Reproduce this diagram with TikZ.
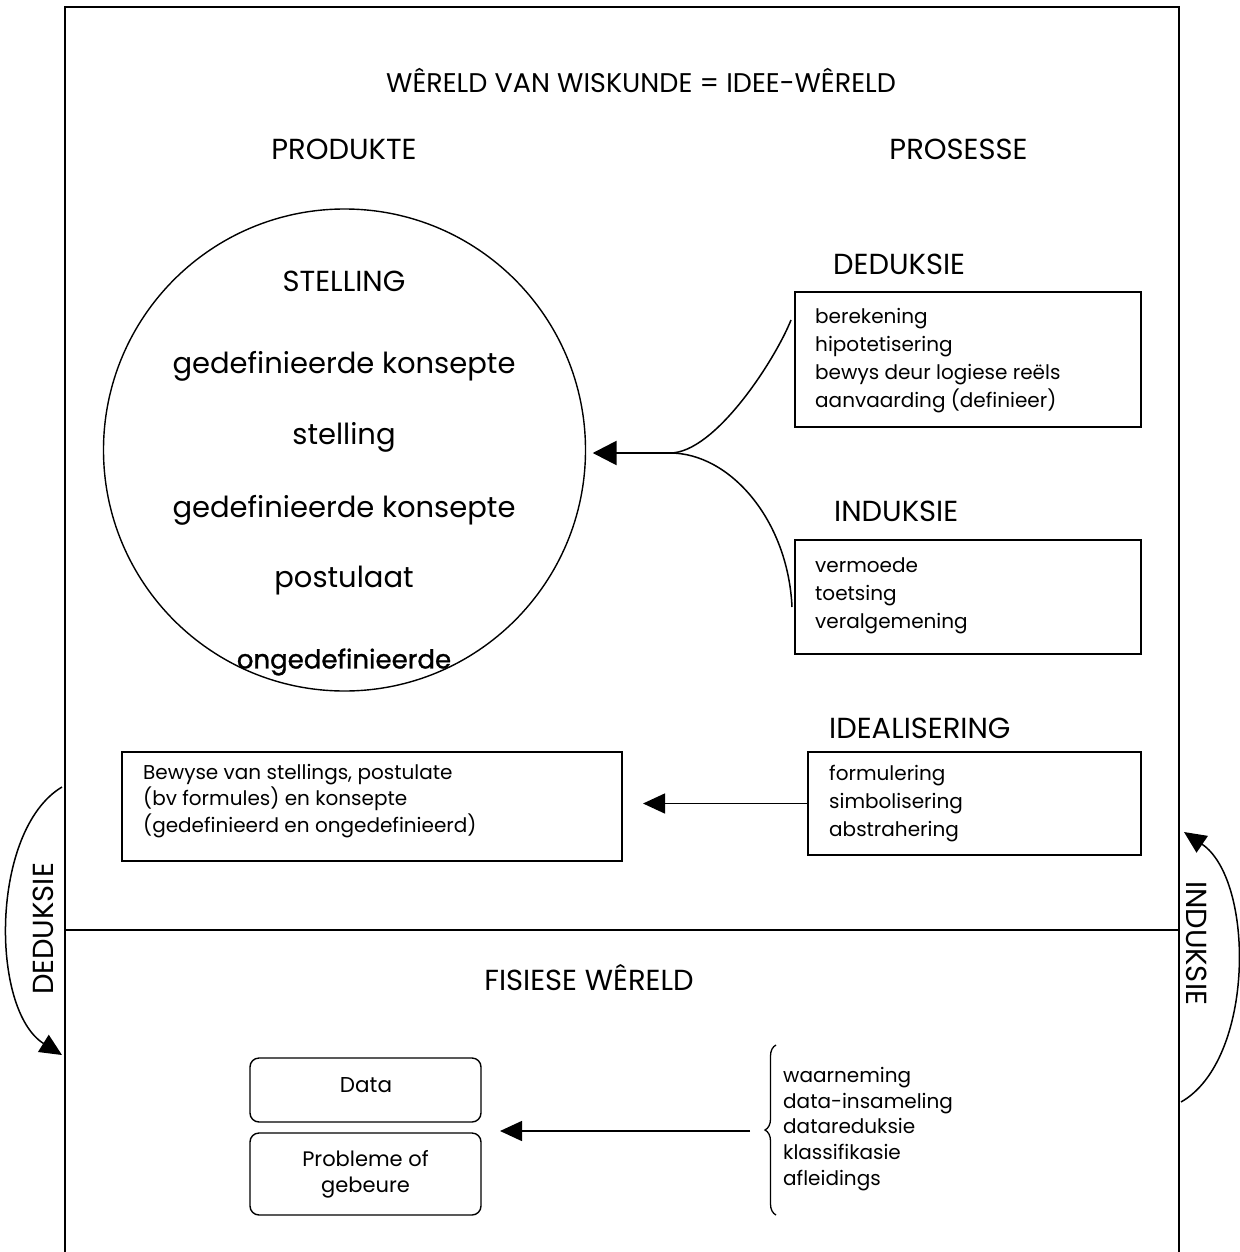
\documentclass[tikz,border=0pt]{standalone}
\usepackage{fontspec}
\setmainfont{Poppins}
\newfontfamily\handfont[FakeBold=1.2]{Poppins}
\usetikzlibrary{arrows.meta,decorations.pathreplacing}
\begin{document}
\begin{tikzpicture}[x=1pt,y=-1pt,
  frame/.style={line width=1.6pt},
  listbox/.style={draw,line width=1.4pt,rectangle,inner sep=0pt},
  roundbox/.style={draw,line width=1.4pt,rounded corners=9pt,inner sep=0pt},
  listtext/.style={anchor=west,align=left,inner sep=0pt,font=\fontsize{20}{28}\selectfont},
  heading/.style={inner sep=0pt,font=\fontsize{29}{32}\selectfont},
  circtext/.style={inner sep=0pt,font=\fontsize{29}{32}\selectfont},
  link/.style={line width=1.5pt},
  tip/.style={-{Triangle[length=22pt,width=20pt]}},
]
\useasboundingbox (0,0) rectangle (1239,1252);

% outer frame and the line between the two worlds
\draw[frame] (65,1252) -- (65,7) -- (1179,7) -- (1179,1252);
\draw[frame] (65,930) -- (1179,930);

% headings
\node[heading,font=\fontsize{27}{30}\selectfont] (title) at (641,80) {WÊRELD VAN WISKUNDE = IDEE-WÊRELD};
\node[heading] (prod) at (344,149) {PRODUKTE};
\node[heading] (pros) at (958.5,149) {PROSESSE};

% products circle
\node[draw,circle,line width=1.4pt,minimum size=482pt,inner sep=0pt] (circ) at (344.5,450) {};
\node[circtext] (c1) at (344,281) {STELLING};
\node[circtext] (c2) at (344,366) {gedefinieerde konsepte};
\node[circtext] (c3) at (344,437) {stelling};
\node[circtext] (c4) at (344,510) {gedefinieerde konsepte};
\node[circtext] (c5) at (344,581) {postulaat};
\node[inner sep=0pt,font=\handfont\fontsize{26}{30}\selectfont] (c6) at (344,662) {ongedefinieerde};

% processes
\node[heading,anchor=west] (dedhead) at (833,264) {DEDUKSIE};
\node[listbox,minimum width=346pt,minimum height=135pt] (dedbox) at (968,359.5) {};
\node[listtext] (dedlist) at (815,361) {berekening\\hipotetisering\\bewys deur logiese reëls\\aanvaarding (definieer)};

\node[heading,anchor=west] (indhead) at (834,511) {INDUKSIE};
\node[listbox,minimum width=346pt,minimum height=114pt] (indbox) at (968,597) {};
\node[listtext] (indlist) at (815,596) {vermoede\\toetsing\\veralgemening};

\node[heading,anchor=west] (idhead) at (829,728) {IDEALISERING};
\node[listbox,minimum width=333pt,minimum height=103pt] (idbox) at (974.5,803.5) {};
\node[listtext] (idlist) at (829,804) {formulering\\simbolisering\\abstrahering};

\node[listbox,minimum width=500pt,minimum height=109pt] (proofbox) at (372,806.5) {};
\node[listtext,font=\fontsize{20}{26.5}\selectfont] (prooflist) at (143,801) {Bewyse van stellings, postulate\\(bv formules) en konsepte\\(gedefinieerd en ongedefinieerd)};

% joined arrow from deduction and induction into the circle
\coordinate (dedout) at (791,320);
\coordinate (indout) at (792,607);
\coordinate (join) at (670,453);
\draw[link] (dedout) .. controls (775,360) and (715,453) .. (join);
\draw[link] (indout) .. controls (788,520) and (730,453) .. (join);
\draw[line width=2.6pt,-{Triangle[length=24pt,width=24pt]},shorten >=6.5pt] (join) -- (circ.east |- join);
\draw[link,tip] (idbox.west) -- (643,803.5);

% physical world
\node[heading] (fis) at (589,978) {FISIESE WÊRELD};
\node[roundbox,minimum width=231pt,minimum height=64pt] (data) at (365.5,1090) {};
\node[inner sep=0pt,font=\fontsize{21.5}{26}\selectfont] (datatext) at (366,1085) {Data};
\node[roundbox,minimum width=231pt,minimum height=82pt,align=center,font=\fontsize{21}{26}\selectfont] (prob) at (365.5,1174) {Probleme of\\gebeure};

\draw[line width=1.3pt,decorate,decoration={brace,amplitude=11pt}] (776,1215) -- (776,1045);
\node[listtext,font=\fontsize{20}{25.8}\selectfont] (obslist) at (783,1129) {waarneming\\data-insameling\\datareduksie\\klassifikasie\\afleidings};
\coordinate (bracetip) at (750,1131);
\coordinate (gap) at (500,1131);
\draw[link,tip] (bracetip) -- (gap);

% deduction and induction between the two worlds
\coordinate (dedtop) at (62,787);
\coordinate (dedend) at (62,1055);
\draw[link,tip] (dedtop) .. controls (-10,830) and (-10,1010) .. (dedend);
\node[heading,rotate=90] (dedside) at (43,929) {DEDUKSIE};

\coordinate (indstart) at (1181,1102);
\coordinate (indend) at (1184,832);
\draw[link,tip] (indstart) .. controls (1255,1060) and (1255,880) .. (indend);
\node[heading,rotate=-90] (indside) at (1197,943) {INDUKSIE};
\end{tikzpicture}
\end{document}
